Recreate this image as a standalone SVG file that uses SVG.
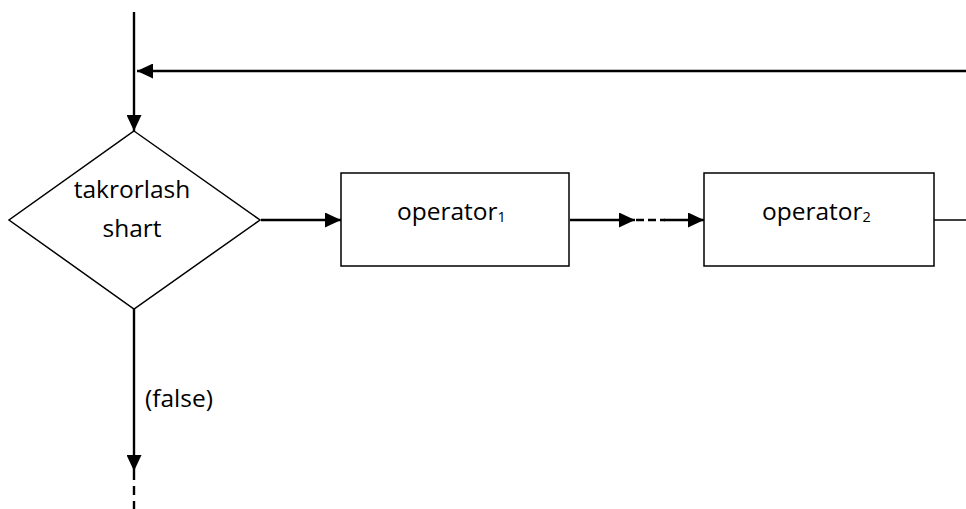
<svg xmlns="http://www.w3.org/2000/svg" width="966" height="509" viewBox="0 0 966 509">
<style>
.shape{fill:#fff;stroke:#000;stroke-width:1.5}
.conn{fill:none;stroke:#000;stroke-width:2.4}
.thin{fill:none;stroke:#000;stroke-width:1.5}
.dash{fill:none;stroke:#000;stroke-width:2.4;stroke-dasharray:9,6}
.big{font-family:"Open Sans","Noto Sans",sans-serif;font-size:24.5px;fill:#000}
.sub{font-size:14.5px}
</style>
<defs>
<marker id="arr" markerUnits="userSpaceOnUse" markerWidth="16" markerHeight="15" refX="16" refY="7.5" orient="auto">
<path d="M0,0 L16,7.5 L0,15 Z" fill="#000"/>
</marker>
</defs>
<rect width="966" height="509" fill="#fff"/>
<g id="connectors">
<line class="conn" x1="134" y1="12" x2="134" y2="131" marker-end="url(#arr)"/>
<line class="conn" x1="966" y1="71" x2="137" y2="71" marker-end="url(#arr)"/>
<line class="conn" x1="261" y1="220" x2="341" y2="220" marker-end="url(#arr)"/>
<line class="conn" x1="570" y1="220" x2="635" y2="220" marker-end="url(#arr)"/>
<line class="dash" x1="636" y1="220" x2="665" y2="220" style="stroke-dasharray:8,4"/>
<line class="conn" x1="664" y1="220" x2="704" y2="220" marker-end="url(#arr)"/>
<line class="thin" x1="934" y1="220" x2="966" y2="220"/>
<line class="conn" x1="134" y1="309" x2="134" y2="471" marker-end="url(#arr)"/>
<line class="dash" x1="134" y1="471" x2="134" y2="509"/>
</g>
<g id="condition">
<polygon class="shape" points="134,131 260,220 134,309 9,220"/>
<text class="big" x="132" y="198" text-anchor="middle">takrorlash</text>
<text class="big" x="132" y="237" text-anchor="middle">shart</text>
</g>
<g id="operator1">
<rect class="shape" x="341" y="173" width="228" height="93"/>
<text class="big" x="397" y="220">operator<tspan class="sub" dy="2">1</tspan></text>
</g>
<g id="operator2">
<rect class="shape" x="704" y="173" width="230" height="93"/>
<text class="big" x="762" y="220">operator<tspan class="sub" dy="2">2</tspan></text>
</g>
<g id="false-label">
<text class="big" x="145" y="407">(false)</text>
</g>
</svg>
